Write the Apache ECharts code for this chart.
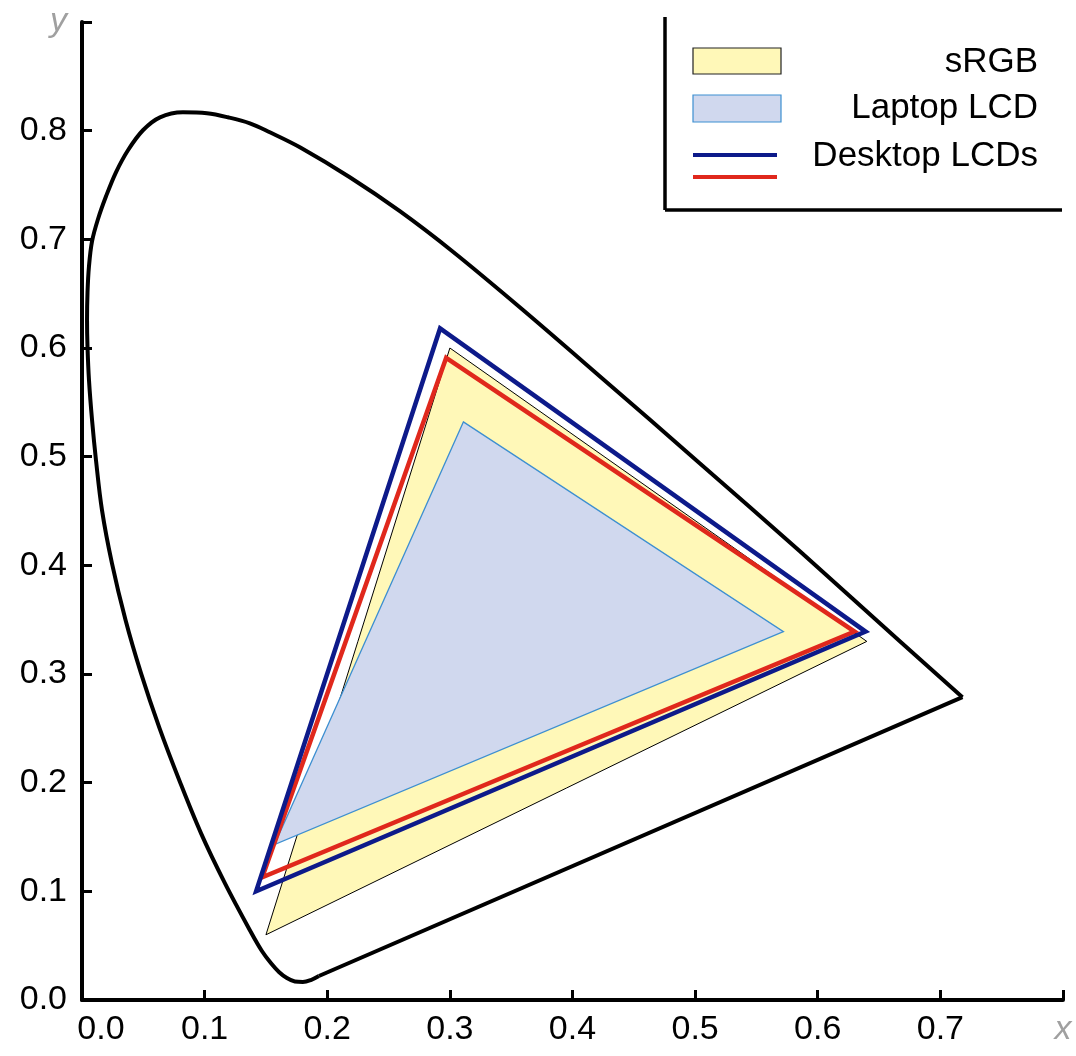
<!DOCTYPE html>
<html>
<head>
<meta charset="utf-8">
<script src="https://cdn.jsdelivr.net/npm/echarts@6/dist/echarts.min.js"></script>
<style>
  html, body { margin: 0; padding: 0; background: #fff; }
  #chart { width: 1076px; height: 1056px; }
</style>
</head>
<body>
<div id="chart"></div>
<script>
// spectral locus (x, y chromaticity)
const locus = [
  [0.7180, 0.2787], [0.6667, 0.3303], [0.5852, 0.4131], [0.5037, 0.4940], [0.4222, 0.5741],
  [0.3570, 0.6375], [0.3015, 0.6895], [0.2592, 0.7259], [0.2184, 0.7571], [0.1777, 0.7847],
  [0.1532, 0.7985], [0.1369, 0.8068], [0.1190, 0.8123], [0.1019, 0.8160], [0.0823, 0.8169],
  [0.0636, 0.8123], [0.0497, 0.8004], [0.0375, 0.7820], [0.0277, 0.7617], [0.0196, 0.7396],
  [0.0130, 0.7185], [0.0082, 0.6983], [0.0057, 0.6753], [0.0045, 0.6513], [0.0041, 0.6256],
  [0.0045, 0.6007], [0.0057, 0.5704], [0.0082, 0.5336], [0.0114, 0.4968], [0.0163, 0.4508],
  [0.0244, 0.4020], [0.0355, 0.3496], [0.0481, 0.3008], [0.0632, 0.2502], [0.0799, 0.2006],
  [0.0970, 0.1536], [0.1165, 0.1076], [0.1377, 0.0626], [0.1467, 0.0451], [0.1540, 0.0340],
  [0.1606, 0.0258], [0.1671, 0.0202], [0.1736, 0.0170], [0.1801, 0.0166], [0.1866, 0.0184],
  [0.1932, 0.0221]
]
// line of purples
const purpleLine = [[0.1932, 0.0221], [0.7180, 0.2787]]

// gamut triangles
const srgb = [[0.30, 0.60], [0.64, 0.33], [0.15, 0.06]]
const laptopLcd = [[0.311, 0.532], [0.572, 0.339], [0.157, 0.143]]
const desktopBlue = [[0.292, 0.618], [0.639, 0.339], [0.142, 0.100]]
const desktopRed = [[0.297, 0.591], [0.630, 0.339], [0.147, 0.113]]

const legendNames = ['sRGB', 'Laptop LCD', 'Desktop LCDs']

const FONT = "'Liberation Sans', Arial, sans-serif"
const LABEL_SIZE = 34

const chart = echarts.init(document.getElementById('chart'), null, { renderer: 'canvas' })

function polygonItem(points, fill, stroke, width) {
  return function (params, api) {
    if (params.dataIndex !== 0) return null
    return {
      type: 'polygon',
      shape: { points: points.map((p) => api.coord(p)) },
      style: { fill: fill, stroke: stroke, lineWidth: width, lineJoin: 'miter' }
    }
  }
}

function triangleSeries(points, fill, stroke, width) {
  return {
    type: 'custom',
    data: points,
    encode: { x: 0, y: 1 },
    renderItem: polygonItem(points, fill, stroke, width),
    silent: true
  }
}

const axisLabelRich = {
  n: { color: '#a0a0a0', fontStyle: 'italic', fontSize: LABEL_SIZE, fontFamily: FONT },
  z: { padding: [0, 0, 0, 38], fontSize: LABEL_SIZE, fontFamily: FONT, color: '#000' }
}

function legendText(i, y) {
  return {
    type: 'text',
    x: 1038,
    y: y,
    style: {
      text: legendNames[i],
      align: 'right',
      verticalAlign: 'middle',
      fontSize: 35,
      fontFamily: FONT,
      fill: '#000'
    }
  }
}

chart.setOption({
  animation: false,
  backgroundColor: '#fff',
  grid: { left: 82, right: 13, top: 22, bottom: 56 },
  xAxis: {
    type: 'value',
    min: 0,
    max: 0.8,
    interval: 0.1,
    splitLine: { show: false },
    axisLine: { lineStyle: { color: '#000', width: 4 } },
    axisTick: { inside: true, length: 10, lineStyle: { color: '#000', width: 3 } },
    axisLabel: {
      margin: 13,
      color: '#000',
      fontSize: LABEL_SIZE,
      fontFamily: FONT,
      showMaxLabel: true,
      formatter: (v) => {
        if (Math.abs(v - 0.8) < 1e-6) return '{n|x}'
        if (v === 0) return '{z|0.0}'
        return v.toFixed(1)
      },
      rich: axisLabelRich
    }
  },
  yAxis: {
    type: 'value',
    min: 0,
    max: 0.9,
    interval: 0.1,
    splitLine: { show: false },
    axisLine: { lineStyle: { color: '#000', width: 4 } },
    axisTick: { inside: true, length: 10, lineStyle: { color: '#000', width: 3 } },
    axisLabel: {
      margin: 15,
      color: '#000',
      fontSize: LABEL_SIZE,
      fontFamily: FONT,
      showMaxLabel: true,
      formatter: (v) => (Math.abs(v - 0.9) < 1e-6 ? '{n|y}' : v.toFixed(1)),
      rich: axisLabelRich
    }
  },
  graphic: [
    // legend frame
    { type: 'line', shape: { x1: 665, y1: 17, x2: 665, y2: 210 }, style: { stroke: '#000', lineWidth: 3.5 } },
    { type: 'line', shape: { x1: 665, y1: 210, x2: 1062, y2: 210 }, style: { stroke: '#000', lineWidth: 3.5 } },
    { type: 'rect', shape: { x: 693, y: 48, width: 88, height: 26 }, style: { fill: '#fff8b8', stroke: '#222', lineWidth: 1.2 } },
    { type: 'rect', shape: { x: 693, y: 95, width: 88, height: 27 }, style: { fill: '#d0d8ee', stroke: '#3d8fd1', lineWidth: 1.2 } },
    { type: 'line', shape: { x1: 693, y1: 155, x2: 777, y2: 155 }, style: { stroke: '#0d1a8a', lineWidth: 4 } },
    { type: 'line', shape: { x1: 693, y1: 177, x2: 777, y2: 177 }, style: { stroke: '#e0281c', lineWidth: 4 } },
    legendText(0, 62),
    legendText(1, 108),
    legendText(2, 156)
  ],
  series: [
    {
      type: 'line',
      data: locus,
      smooth: 0.35,
      symbol: 'none',
      silent: true,
      lineStyle: { color: '#000', width: 4, join: 'round' }
    },
    {
      type: 'line',
      data: purpleLine,
      symbol: 'none',
      silent: true,
      lineStyle: { color: '#000', width: 4 }
    },
    triangleSeries(srgb, '#fff8b8', '#000', 1),
    triangleSeries(laptopLcd, '#d0d8ee', '#3d8fd1', 1.3),
    triangleSeries(desktopRed, 'none', '#e0281c', 4.5),
    triangleSeries(desktopBlue, 'none', '#0d1a8a', 4.5)
  ]
})

window.addEventListener('resize', () => chart.resize())
</script>
</body>
</html>
